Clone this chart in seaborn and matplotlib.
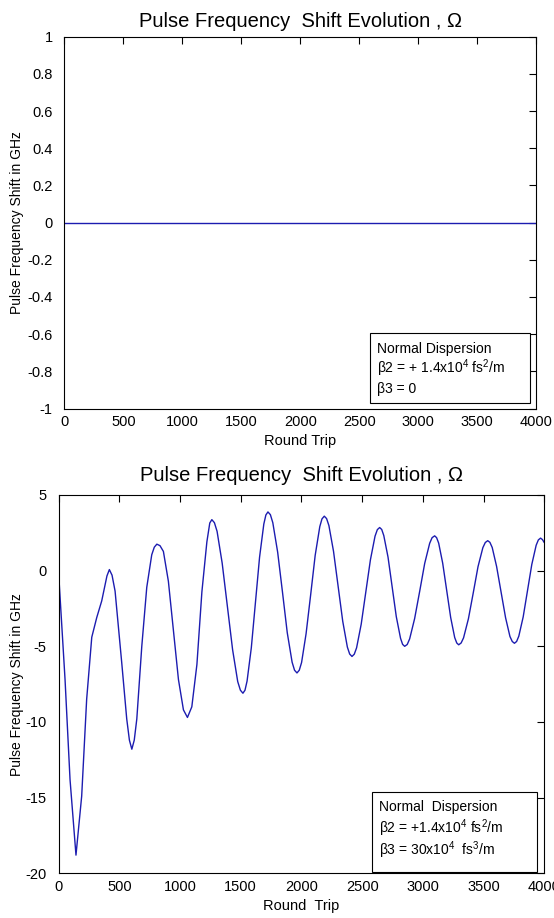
import numpy as np
import pandas as pd
import matplotlib
matplotlib.use("Agg")
import matplotlib.pyplot as plt
from matplotlib.patches import Rectangle
import seaborn as sns

# --- data ---
round_trip_ticks = [0, 500, 1000, 1500, 2000, 2500, 3000, 3500, 4000]

# top panel: beta3 = 0 -> no shift at all
top_rt = [0, 4000]
top_shift = [0.0, 0.0]
top_yticks = [-1, -0.8, -0.6, -0.4, -0.2, 0, 0.2, 0.4, 0.6, 0.8, 1]
top_ylabels = ["-1", "-0.8", "-0.6", "-0.4", "-0.2", "0", "0.2", "0.4", "0.6", "0.8", "1"]

# bottom panel: beta3 = 30x10^4 fs^3/m
bot_rt = [0, 53, 94, 143, 190, 231, 273, 314, 355, 398, 418, 440,
          465, 520, 561, 583, 603, 623, 644, 685, 726, 767, 788, 809, 835, 863,
          904, 946, 987, 1028, 1061, 1097, 1139, 1180, 1221, 1245, 1262, 1283,
          1305, 1347, 1390, 1433, 1475, 1497, 1518, 1535,
          1552, 1587, 1621, 1655, 1690, 1707, 1724, 1744,
          1764, 1804, 1844, 1883, 1923, 1943, 1963, 1982,
          2001, 2038, 2076, 2113, 2151, 2169, 2188, 2207,
          2226, 2264, 2302, 2340, 2378, 2397, 2416, 2435,
          2454, 2492, 2530, 2568, 2606, 2625, 2644, 2661,
          2678, 2713, 2747, 2781, 2816, 2833, 2850, 2871,
          2891, 2932, 2974, 3015, 3056, 3076, 3097, 3113,
          3130, 3163, 3196, 3229, 3262, 3279, 3295, 3315,
          3335, 3375, 3415, 3454, 3494, 3514, 3534, 3552,
          3571, 3607, 3644, 3681, 3717, 3736, 3754, 3772,
          3790, 3826, 3862, 3897, 3933, 3951, 3969,
          3985, 4000]
bot_shift = [-0.15, -7.2, -13.8, -18.8, -14.9, -8.5, -4.4, -3.1, -2.0, -0.35, 0.07, -0.3,
             -1.35, -6.1, -9.8, -11.2, -11.8, -11.2, -9.8, -5.0, -1.1, 1.05, 1.55, 1.75, 1.65, 1.27,
             -0.7, -4.0, -7.2, -9.2, -9.7, -9.0, -6.2, -1.4, 1.9, 3.15, 3.37, 3.17,
             2.60, 0.50, -2.37, -5.23, -7.33, -7.9, -8.1, -7.9,
             -7.30, -5.10, -2.11, 0.89, 3.08, 3.68, 3.88, 3.70,
             3.17, 1.22, -1.44, -4.10, -6.05, -6.58, -6.76, -6.58,
             -6.07, -4.17, -1.58, 1.01, 2.91, 3.42, 3.6, 3.44,
             2.98, 1.28, -1.04, -3.35, -5.05, -5.51, -5.67, -5.52,
             -5.10, -3.54, -1.41, 0.72, 2.28, 2.71, 2.85, 2.72,
             2.32, 0.89, -1.08, -3.04, -4.47, -4.87, -5.0, -4.88,
             -4.51, -3.17, -1.35, 0.48, 1.81, 2.18, 2.3, 2.18,
             1.82, 0.5, -1.3, -3.1, -4.42, -4.78, -4.9, -4.78,
             -4.44, -3.18, -1.46, 0.26, 1.52, 1.86, 1.98, 1.87,
             1.53, 0.28, -1.41, -3.11, -4.35, -4.68, -4.8, -4.68,
             -4.33, -3.06, -1.32, 0.41, 1.68, 2.03, 2.15,
             2.05, 1.85]
bot_yticks = [-20, -15, -10, -5, 0, 5]
bot_ylabels = ["-20", "-15", "-10", "-5", "0", "5"]

TITLE = "Pulse Frequency  Shift Evolution , \u03a9"
YLABEL = "Pulse Frequency Shift in GHz"
LINE_COLOR = "#1c1cb0"

sns.set_style("white")
plt.rcParams["font.family"] = ["Liberation Sans", "DejaVu Sans"]
plt.rcParams["text.color"] = "black"
plt.rcParams["axes.labelcolor"] = "black"
plt.rcParams["xtick.color"] = "black"
plt.rcParams["ytick.color"] = "black"
plt.rcParams["mathtext.fontset"] = "custom"
plt.rcParams["mathtext.rm"] = "Liberation Sans"
plt.rcParams["mathtext.it"] = "Liberation Sans"
plt.rcParams["mathtext.default"] = "regular"
plt.rcParams["axes.unicode_minus"] = False


def style_axes(ax):
    for sp in ax.spines.values():
        sp.set_visible(True)
        sp.set_color("black")
        sp.set_linewidth(0.8)
    ax.tick_params(direction="in", length=5, width=0.8, top=True, right=True,
                   labelsize=10.5, colors="black")
    ax.tick_params(axis="x", pad=4.5)
    ax.tick_params(axis="y", pad=8.5)
    ax.set_xlim(0, 4000)
    ax.set_xticks(round_trip_ticks)
    ax.set_xticklabels([str(t) for t in round_trip_ticks])
    ax.grid(False)


def add_box(ax, x0, y0, x1, y1, lines, tx, tys):
    ax.add_patch(Rectangle((x0, y0), x1 - x0, y1 - y0, transform=ax.transAxes,
                           facecolor="white", edgecolor="black", lw=0.8, zorder=5))
    for line, ty in zip(lines, tys):
        ax.text(tx, ty, line, transform=ax.transAxes, fontsize=10, color="black",
                va="baseline", ha="left", zorder=6)


fig = plt.figure(figsize=(5.54, 9.18), dpi=100)

# --- top panel ---
ax1 = fig.add_axes([0.1164, 0.555, 0.8511, 0.405])
df_top = pd.DataFrame({"rt": top_rt, "shift": top_shift})
sns.lineplot(data=df_top, x="rt", y="shift", ax=ax1, color=LINE_COLOR, lw=1.0)
style_axes(ax1)
ax1.set_ylim(-1, 1)
ax1.set_yticks(top_yticks)
ax1.set_yticklabels(top_ylabels)
ax1.set_title(TITLE, fontsize=14.5, pad=7, color="black")
ax1.set_xlabel("Round Trip", fontsize=10.5, labelpad=4)
ax1.set_ylabel(YLABEL, fontsize=10)
ax1.yaxis.set_label_coords(-0.085, 0.5)
add_box(ax1, 0.648, 0.016, 0.987, 0.202,
        ["Normal Dispersion",
         "\u03b22 = + 1.4x10$^{4}$ fs$^{2}$/m",
         "\u03b23 = 0"],
        0.663, [0.149, 0.0955, 0.0425])

# --- bottom panel ---
ax2 = fig.add_axes([0.1058, 0.0487, 0.8767, 0.4121])
df_bot = pd.DataFrame({"rt": bot_rt, "shift": bot_shift})
sns.lineplot(data=df_bot, x="rt", y="shift", ax=ax2, color=LINE_COLOR, lw=1.0)
style_axes(ax2)
ax2.set_ylim(-20, 5)
ax2.set_yticks(bot_yticks)
ax2.set_yticklabels(bot_ylabels)
ax2.set_title(TITLE, fontsize=14.5, pad=10, color="black")
ax2.set_xlabel("Round  Trip", fontsize=10.5, labelpad=4)
ax2.set_ylabel(YLABEL, fontsize=10)
ax2.yaxis.set_label_coords(-0.072, 0.5)
add_box(ax2, 0.6446, 0.004, 0.9844, 0.2157,
        ["Normal  Dispersion",
         "\u03b22 = +1.4x10$^{4}$ fs$^{2}$/m",
         "\u03b23 = 30x10$^{4}$  fs$^{3}$/m"],
        0.660, [0.1655, 0.1065, 0.0484])

fig.savefig("out.png", dpi=100)
plt.close(fig)
